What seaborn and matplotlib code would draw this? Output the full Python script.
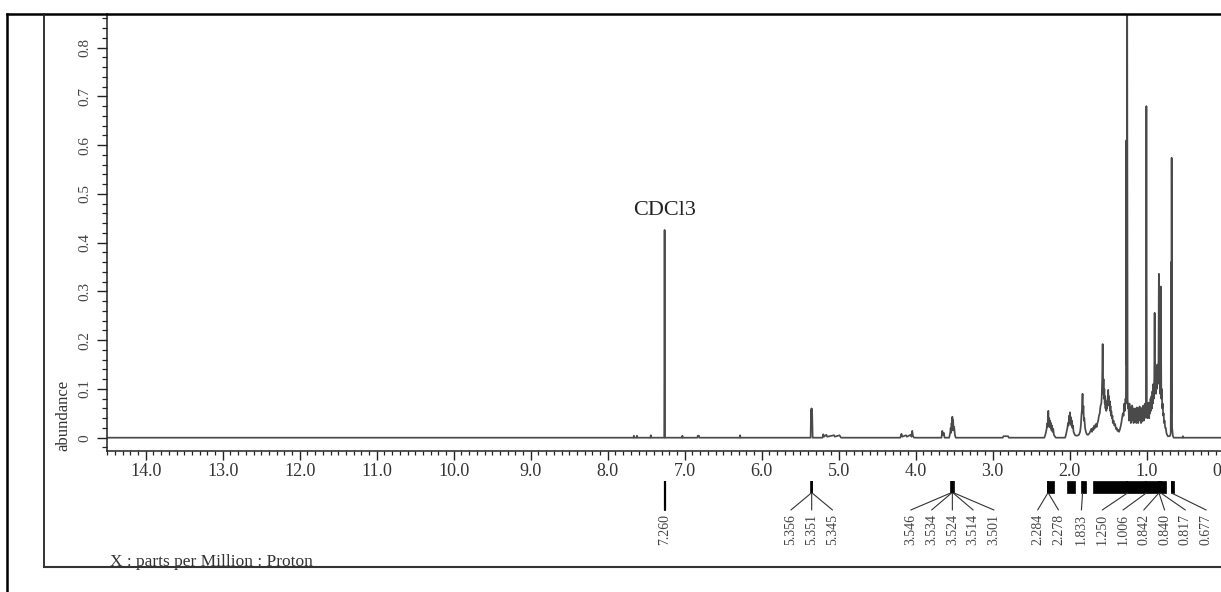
import numpy as np
import pandas as pd
import seaborn as sns
import matplotlib
matplotlib.use("Agg")
import matplotlib.pyplot as plt
from matplotlib.lines import Line2D
from matplotlib.patches import Rectangle
from matplotlib.ticker import MultipleLocator, FuncFormatter
import matplotlib.transforms as mtransforms

# ---------------- data ----------------
shift_ppm = [
    14.50, 7.70, 7.665, 7.66, 7.655, 7.625, 7.62, 7.615, 7.445, 7.44, 7.435,
    7.266, 7.261, 7.256, 7.035, 7.03, 7.025, 6.835, 6.83, 6.815, 6.81,
    6.285, 6.28, 6.275,
    5.365, 5.359, 5.356, 5.353, 5.350, 5.347, 5.344, 5.338,
    5.21, 5.20, 5.19, 5.16, 5.15, 5.06, 5.05, 4.99, 4.97,
    4.20, 4.185, 4.175, 4.125, 4.115, 4.065, 4.055, 4.045, 4.035, 4.02,
    3.665, 3.655, 3.645, 3.635, 3.625,
    3.565, 3.55, 3.546, 3.54, 3.534, 3.529, 3.524, 3.519, 3.514, 3.508, 3.501, 3.49, 3.48,
    2.87, 2.86, 2.80, 2.79,
    2.33, 2.32, 2.31, 2.30, 2.29, 2.285, 2.278, 2.272, 2.266, 2.26, 2.254, 2.248,
    2.242, 2.236, 2.23, 2.222, 2.214, 2.205, 2.195, 2.18,
    2.06, 2.05, 2.04, 2.03, 2.022, 2.015, 2.008, 2.002, 1.996, 1.99, 1.984, 1.978,
    1.972, 1.965, 1.958, 1.95, 1.94, 1.93, 1.91, 1.89,
    1.88, 1.865, 1.855, 1.848, 1.84, 1.833, 1.828, 1.822, 1.816, 1.81, 1.80, 1.79,
    1.78, 1.77,
    1.76, 1.74, 1.72, 1.71, 1.70, 1.69, 1.68, 1.67, 1.66, 1.65, 1.64, 1.63, 1.62,
    1.61, 1.60, 1.59,
    1.585, 1.578, 1.572, 1.566, 1.56, 1.555, 1.55, 1.545, 1.54, 1.535, 1.53, 1.525, 1.52,
    1.515, 1.51, 1.505, 1.50, 1.495, 1.49, 1.485, 1.48, 1.475, 1.47, 1.465, 1.46,
    1.45, 1.445, 1.44, 1.43, 1.42, 1.41, 1.40, 1.39, 1.38, 1.37, 1.36, 1.35, 1.34,
    1.33, 1.32, 1.31, 1.30, 1.295, 1.29, 1.285, 1.28, 1.275,
    1.27, 1.264, 1.26, 1.254, 1.248, 1.242,
    1.236, 1.23, 1.224, 1.218, 1.212, 1.206, 1.20, 1.194, 1.188, 1.182, 1.176, 1.17,
    1.164, 1.158, 1.152, 1.146, 1.14, 1.134, 1.128, 1.122, 1.116, 1.11, 1.104, 1.098,
    1.092, 1.086, 1.08, 1.074, 1.068, 1.062, 1.056, 1.05, 1.044, 1.038, 1.032, 1.026,
    1.02, 1.014,
    1.01, 1.004, 0.998,
    0.992, 0.986, 0.98, 0.974, 0.968, 0.962, 0.956, 0.95, 0.944, 0.938, 0.932, 0.926,
    0.92, 0.914, 0.908, 0.902, 0.897, 0.892, 0.886, 0.88, 0.874, 0.868, 0.862, 0.856, 0.85,
    0.848, 0.842, 0.836, 0.83, 0.824, 0.817, 0.81, 0.804, 0.798, 0.792, 0.786, 0.78,
    0.774, 0.768, 0.76, 0.752, 0.744, 0.736, 0.725, 0.71, 0.695, 0.688,
    0.684, 0.68, 0.676, 0.67, 0.66, 0.65,
    0.535, 0.53, 0.525, -0.25,
]
intensity = [
    0.0, 0.0, 0.0, 0.004, 0.0, 0.0, 0.004, 0.0, 0.0, 0.005, 0.0,
    0.0, 0.426, 0.0, 0.0, 0.004, 0.0, 0.0, 0.004, 0.004, 0.0,
    0.0, 0.005, 0.0,
    0.0, 0.056, 0.04, 0.06, 0.045, 0.058, 0.045, 0.0,
    0.0, 0.007, 0.002, 0.006, 0.002, 0.005, 0.002, 0.005, 0.0,
    0.0, 0.008, 0.002, 0.005, 0.002, 0.006, 0.002, 0.014, 0.003, 0.0,
    0.0, 0.014, 0.006, 0.01, 0.0,
    0.0, 0.012, 0.02, 0.01, 0.03, 0.015, 0.043, 0.02, 0.036, 0.015, 0.022, 0.005, 0.0,
    0.0, 0.003, 0.003, 0.0,
    0.0, 0.004, 0.01, 0.018, 0.03, 0.022, 0.055, 0.028, 0.04, 0.022, 0.035, 0.02,
    0.03, 0.015, 0.025, 0.012, 0.018, 0.006, 0.003, 0.0,
    0.0, 0.005, 0.012, 0.02, 0.03, 0.025, 0.045, 0.03, 0.052, 0.032, 0.042, 0.025,
    0.035, 0.02, 0.025, 0.012, 0.008, 0.005, 0.004, 0.005,
    0.006, 0.012, 0.025, 0.045, 0.06, 0.09, 0.05, 0.065, 0.035, 0.04, 0.02, 0.012,
    0.008, 0.006,
    0.006, 0.01, 0.018, 0.012, 0.02, 0.016, 0.025, 0.02, 0.028, 0.022, 0.03, 0.035, 0.045,
    0.05, 0.065, 0.07,
    0.08, 0.12, 0.192, 0.09, 0.12, 0.08, 0.1, 0.07, 0.085, 0.06, 0.075, 0.055, 0.065,
    0.06, 0.075, 0.085, 0.098, 0.07, 0.085, 0.065, 0.075, 0.055, 0.065, 0.045, 0.055,
    0.04, 0.045, 0.03, 0.035, 0.025, 0.028, 0.018, 0.02, 0.014, 0.016, 0.012, 0.016, 0.022,
    0.03, 0.04, 0.05, 0.045, 0.06, 0.07, 0.055, 0.065, 0.08,
    0.07, 0.61, 0.15, 1.0, 0.08, 0.06,
    0.065, 0.035, 0.07, 0.04, 0.062, 0.03, 0.058, 0.035, 0.066, 0.04, 0.06, 0.03,
    0.055, 0.032, 0.06, 0.038, 0.058, 0.03, 0.062, 0.035, 0.055, 0.03, 0.06, 0.04,
    0.064, 0.035, 0.058, 0.03, 0.055, 0.033, 0.062, 0.04, 0.066, 0.035, 0.06, 0.04,
    0.07, 0.05,
    0.06, 0.68, 0.06,
    0.04, 0.07, 0.045, 0.072, 0.04, 0.068, 0.05, 0.08, 0.055, 0.085, 0.06, 0.095,
    0.07, 0.11, 0.08, 0.12, 0.256, 0.1, 0.13, 0.09, 0.14, 0.1, 0.15, 0.11, 0.14,
    0.12, 0.336, 0.12, 0.14, 0.09, 0.31, 0.08, 0.1, 0.06, 0.07, 0.045, 0.05,
    0.03, 0.035, 0.02, 0.02, 0.01, 0.006, 0.003, 0.003, 0.004, 0.01,
    0.36, 0.05, 0.574, 0.02, 0.004, 0.0,
    0.0, 0.003, 0.0, 0.0,
]

# picked peaks (labels under the axis)
pick_ppm = [7.260, 5.356, 5.351, 5.345, 3.546, 3.534, 3.524, 3.514, 3.501,
            2.284, 2.278, 1.833, 1.250, 1.006, 0.842, 0.840, 0.817, 0.677]
pick_text = ["7.260", "5.356", "5.351", "5.345", "3.546", "3.534", "3.524", "3.514", "3.501",
             "2.284", "2.278", "1.833", "1.250", "1.006", "0.842", "0.840", "0.817", "0.677"]
# dense peak-pick regions drawn as solid blocks
block_hi = [2.295, 2.035, 1.853, 1.700, 0.684]
block_lo = [2.200, 1.930, 1.790, 0.750, 0.650]

solvent_label = "CDCl3"
solvent_ppm = 7.26

# ---------------- figure ----------------
W, H = 1221, 592
sns.set_theme(style="ticks")
plt.rcParams["font.family"] = ["Liberation Serif", "DejaVu Serif"]

fig = plt.figure(figsize=(W / 100, H / 100), dpi=100)
fig.patch.set_facecolor("white")

ax_left, ax_right, ax_top, ax_bot = 107, 1240, 14, 451
ax = fig.add_axes([ax_left / W, 1 - ax_bot / H, (ax_right - ax_left) / W, (ax_bot - ax_top) / H])

df = pd.DataFrame({"ppm": shift_ppm, "abundance": intensity})
sns.lineplot(data=df, x="ppm", y="abundance", ax=ax, sort=False, estimator=None,
             color="#4a4a4a", linewidth=1.25)

px_per_ppm = 77.0
zero_px = 1223.7
ax.set_xlim((zero_px - ax_left) / px_per_ppm, (zero_px - ax_right) / px_per_ppm)
ax.set_ylim(-0.0273, 0.869)

ax.set_xlabel("")
ax.set_ylabel("")
for s in ["top", "right"]:
    ax.spines[s].set_visible(False)
for s in ["left", "bottom"]:
    ax.spines[s].set_linewidth(1.1)
    ax.spines[s].set_color("#222222")

ax.xaxis.set_major_locator(MultipleLocator(1.0))
ax.xaxis.set_minor_locator(MultipleLocator(0.1))
ax.xaxis.set_major_formatter(FuncFormatter(lambda v, p: f"{v:.1f}"))
ax.yaxis.set_major_locator(MultipleLocator(0.1))
ax.yaxis.set_minor_locator(MultipleLocator(0.02))
ax.yaxis.set_major_formatter(FuncFormatter(lambda v, p: "0" if abs(v) < 1e-9 else f"{v:.1f}"))

ax.tick_params(axis="x", which="major", direction="out", length=6.5, width=1.0,
               labelsize=13, pad=2, colors="#222222", labelcolor="#333333")
ax.tick_params(axis="x", which="minor", direction="out", length=3, width=0.9, colors="#222222")
ax.tick_params(axis="y", which="major", direction="out", length=7, width=1.0,
               labelsize=11, pad=4, colors="#222222", labelcolor="#444444")
ax.tick_params(axis="y", which="minor", direction="out", length=3.6, width=0.9, colors="#222222")
for lab in ax.get_yticklabels():
    lab.set_rotation(90)
    lab.set_va("center")
    lab.set_ha("right")

# solvent label
ax.text(solvent_ppm, 0.456, solvent_label, ha="center", va="baseline",
        fontsize=16, color="#222222")

# ---------------- peak pick annotations ----------------
trans = mtransforms.blended_transform_factory(ax.transData, ax.transAxes)
hax = ax_bot - ax_top
y_stem_top = (ax_bot - 481) / hax
y_stem_bot = (ax_bot - 493) / hax
y_fan = (ax_bot - 510) / hax
y_lab = (ax_bot - 514) / hax


def spread(pos, gap):
    order = sorted(range(len(pos)), key=lambda i: -pos[i])
    clusters = [[i] for i in order]

    def place(cl):
        c = np.mean([pos[i] for i in cl])
        n = len(cl)
        return [c + gap * ((n - 1) / 2 - k) for k in range(n)]

    merged = True
    while merged:
        merged = False
        for k in range(len(clusters) - 1):
            a, b = place(clusters[k]), place(clusters[k + 1])
            if a[-1] - b[0] < gap:
                clusters[k] = clusters[k] + clusters[k + 1]
                del clusters[k + 1]
                merged = True
                break
    out = [0.0] * len(pos)
    for cl in clusters:
        for i, p in zip(cl, place(cl)):
            out[i] = p
    return out


label_pos = spread(pick_ppm, 0.27)

for hi, lo in zip(block_hi, block_lo):
    ax.add_patch(Rectangle((lo, y_stem_bot), hi - lo, y_stem_top - y_stem_bot,
                           transform=trans, clip_on=False, facecolor="black",
                           edgecolor="black", linewidth=0.5))

for p, lp, t in zip(pick_ppm, label_pos, pick_text):
    straight = abs(p - lp) < 1e-6
    ax.plot([p, p], [y_stem_top, y_stem_bot], transform=trans, clip_on=False,
            color="black", linewidth=1.6 if straight else 1.2,
            solid_capstyle="butt")
    ax.plot([p, lp], [y_stem_bot, y_fan], transform=trans, clip_on=False,
            color="black" if straight else "#333333",
            linewidth=1.6 if straight else 0.8)
    ax.text(lp, y_lab, t, transform=trans, rotation=90, ha="center", va="top",
            fontsize=10, color="#444444", clip_on=False)

# axis labels (placed like the instrument printout)
fig.text(63 / W, 1 - 451 / H, "abundance", rotation=90, ha="center", va="bottom",
         fontsize=12, color="#333333")
fig.text(110 / W, 1 - 566 / H, "X : parts per Million : Proton", ha="left",
         va="baseline", fontsize=12.5, color="#333333")

# frame lines of the printout
def fline(x0, y0, x1, y1, lw, color="black"):
    fig.add_artist(Line2D([x0 / W, x1 / W], [1 - y0 / H, 1 - y1 / H],
                          transform=fig.transFigure, color=color, linewidth=lw,
                          solid_capstyle="projecting"))

fline(7, 14, 7, H + 2, 1.8)
fline(7, 14, W + 2, 14, 1.8)
fline(44, 14, 44, 567, 1.3, "#222222")
fline(44, 567, W + 2, 567, 1.5, "#333333")

fig.savefig("out.png", dpi=100)
